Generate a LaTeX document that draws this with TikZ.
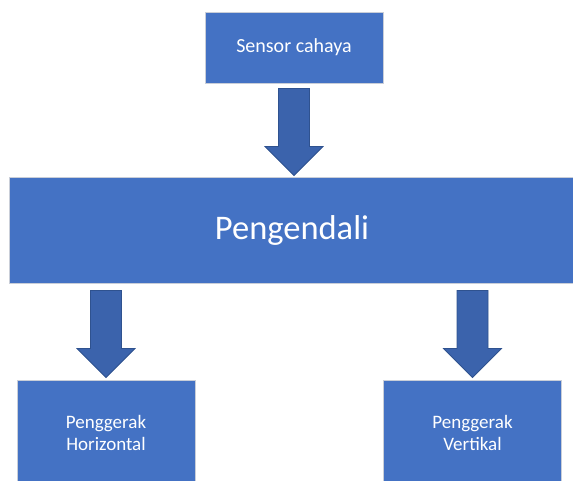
\documentclass[tikz,border=0pt]{standalone}
\usepackage{fontspec}
\setmainfont{Carlito}
\usepackage{tikz}
\usetikzlibrary{calc}

\definecolor{boxblue}{HTML}{4472C4}
\definecolor{boxedge}{HTML}{C9CED8}
\definecolor{arrowblue}{HTML}{3B63AC}
\definecolor{arrowedge}{HTML}{2F528F}

\begin{document}
\begin{tikzpicture}[x=1pt,y=1pt,
  blockbox/.style={draw=boxedge,line width=0.9pt,fill=boxblue,text=white,
    align=center,inner sep=0pt,font=\fontsize{19}{22}\selectfont},
  blockarrow/.style={draw=arrowedge,line width=0.8pt,fill=arrowblue,line join=miter}]
\clip (0,0) rectangle (573,481);
\node[blockbox,minimum width=178,minimum height=71] (sensor) at (294,433.5)
  {\fontsize{20}{24}\selectfont Sensor cahaya};
\node[blockbox,minimum width=566,minimum height=106] (ctrl) at (292,251)
  {\fontsize{34.5}{40}\selectfont Pengendali};
\node[blockbox,minimum width=178,minimum height=106] (horiz) at (106,48)
  {Penggerak\\Horizontal};
\node[blockbox,minimum width=178,minimum height=106] (vert) at (472.5,48)
  {Penggerak\\Vertikal};
% block arrows: top of shaft / tip
\coordinate (t0) at ($(sensor.south)+(0,-5)$);
\coordinate (p0) at ($(sensor.south |- ctrl.north)+(0,1)$);
\coordinate (t1) at ($(horiz.north |- ctrl.south)+(0,-7)$);
\coordinate (p1) at ($(horiz.north)+(0,2)$);
\coordinate (t2) at ($(vert.north |- ctrl.south)+(0,-7)$);
\coordinate (p2) at ($(vert.north)+(0,2)$);
\foreach \i in {0,1,2}
  \draw[blockarrow] let \p1=(t\i), \p2=(p\i) in
    (\x1-15.5pt,\y1) -- (\x1+15.5pt,\y1) -- (\x1+15.5pt,\y2+29pt)
    -- (\x1+29pt,\y2+29pt) -- (\x2,\y2) -- (\x1-29pt,\y2+29pt)
    -- (\x1-15.5pt,\y2+29pt) -- cycle;
\end{tikzpicture}
\end{document}
